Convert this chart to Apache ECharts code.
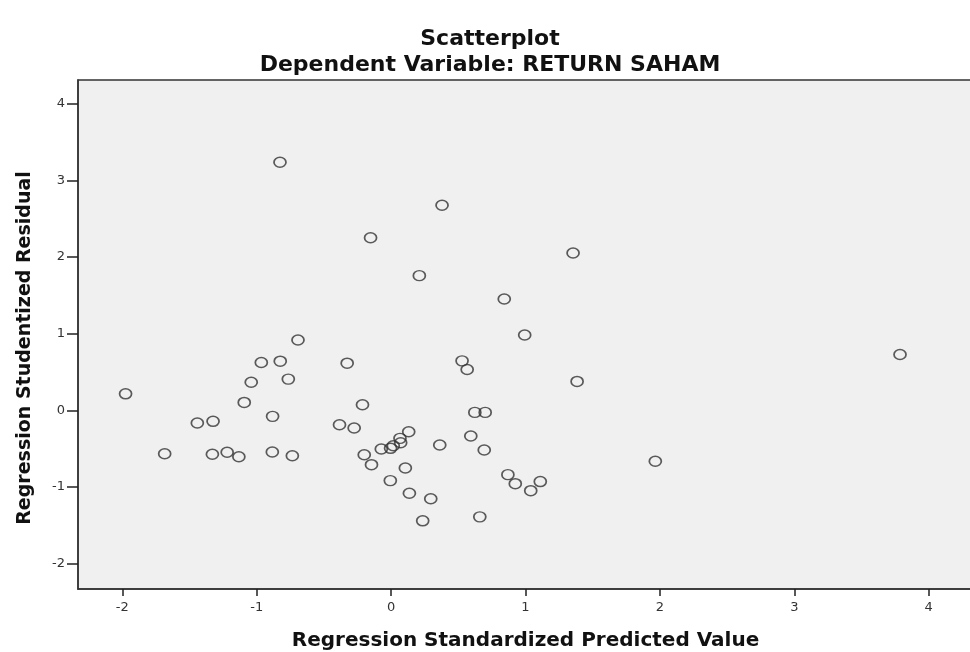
<!DOCTYPE html>
<html>
<head>
<meta charset="utf-8">
<script src="https://cdn.jsdelivr.net/npm/echarts@6/dist/echarts.min.js"></script>
<style>
  html, body { margin: 0; padding: 0; background: #fff; }
  #chart { width: 970px; height: 652px; }
</style>
</head>
<body>
<div id="chart"></div>
<script>
// standardized predicted value (x) and studentized residual (y)
const predicted = [
  -1.976, -1.685, -1.442, -1.325, -1.330, -1.220, -1.133, -1.093, -1.041, -0.966,
  -0.825, -0.882, -0.884, -0.765, -0.735, -0.693, -0.327, -0.213, -0.384, -0.275,
  -0.200, -0.146, -0.073, -0.004, 0.016, 0.071, 0.066, 0.131, 0.362, 0.106,
  -0.006, 0.136, 0.295, 0.235, 0.660, 0.528, 0.566, 0.623, 0.700, 0.593,
  0.693, 0.869, 0.924, 1.039, 1.110, -0.827, 0.379, -0.153, 1.354, 0.210,
  0.842, 0.994, 1.384, 3.787, 1.966
]
const residual = [
  0.216, -0.565, -0.165, -0.143, -0.573, -0.547, -0.604, 0.104, 0.368, 0.625,
  0.642, -0.078, -0.543, 0.408, -0.591, 0.919, 0.616, 0.073, -0.187, -0.230,
  -0.578, -0.708, -0.504, -0.495, -0.461, -0.422, -0.365, -0.278, -0.452, -0.751,
  -0.916, -1.081, -1.152, -1.441, -1.389, 0.646, 0.534, -0.026, -0.026, -0.335,
  -0.517, -0.838, -0.956, -1.047, -0.929, 3.237, 2.677, 2.253, 2.053, 1.758,
  1.453, 0.984, 0.378, 0.729, -0.664
]
const xTicks = [-2, -1, 0, 1, 2, 3, 4]
const yTicks = [-2, -1, 0, 1, 2, 3, 4]

const titleFont = '"DejaVu Sans", sans-serif'
const labelFont = '"DejaVu Sans", sans-serif'
const points = predicted.map((v, i) => [v, residual[i]])

const chart = echarts.init(document.getElementById('chart'))
chart.setOption({
  animation: false,
  title: [
    {
      text: 'Scatterplot',
      left: 485, top: 23, textAlign: 'center',
      textStyle: { fontFamily: titleFont, fontSize: 22, fontWeight: 'bold', color: '#111' }
    },
    {
      text: 'Dependent Variable: RETURN SAHAM',
      left: 485, top: 49, textAlign: 'center',
      textStyle: { fontFamily: titleFont, fontSize: 22, fontWeight: 'bold', color: '#111' }
    }
  ],
  // y title sits a bit below the grid centre in the original
  graphic: [
    {
      type: 'text',
      x: 25, y: 348,
      rotation: Math.PI / 2,
      style: {
        text: 'Regression Studentized Residual',
        font: 'bold 19px "DejaVu Sans", sans-serif',
        fill: '#111',
        align: 'center',
        verticalAlign: 'middle'
      }
    }
  ],
  grid: {
    left: 78, top: 80, right: -3, bottom: 63,
    outerBoundsMode: 'none',
    show: true,
    backgroundColor: '#f0f0f0',
    borderColor: '#333',
    borderWidth: 1.5
  },
  xAxis: {
    type: 'value',
    min: -2.33, max: 4.33,
    name: 'Regression Standardized Predicted Value',
    nameLocation: 'middle',
    nameGap: 42,
    nameTextStyle: { fontFamily: titleFont, fontSize: 20, fontWeight: 'bold', color: '#111' },
    axisLine: { show: true, onZero: false, lineStyle: { color: '#333', width: 1.5 } },
    axisTick: { show: true, length: 7, customValues: xTicks, lineStyle: { color: '#222', width: 1.5 } },
    axisLabel: { customValues: xTicks, margin: 12, fontFamily: labelFont, fontSize: 13, color: '#333' },
    splitLine: { show: false }
  },
  yAxis: {
    type: 'value',
    min: -2.33, max: 4.31,
    axisLine: { show: true, onZero: false, lineStyle: { color: '#333', width: 1.5 } },
    axisTick: { show: true, length: 11, customValues: yTicks, lineStyle: { color: '#222', width: 1.5 } },
    axisLabel: { customValues: yTicks, margin: 13, fontFamily: labelFont, fontSize: 13, color: '#333' },
    splitLine: { show: false }
  },
  series: [
    {
      type: 'scatter',
      data: points,
      symbol: 'path://M0,5a6,5 0 1,0 12,0a6,5 0 1,0 -12,0z',
      symbolKeepAspect: false,
      symbolSize: [12, 10],
      itemStyle: { color: 'rgba(0,0,0,0)', borderColor: '#333', borderWidth: 1.6 }
    }
  ]
})
</script>
</body>
</html>
